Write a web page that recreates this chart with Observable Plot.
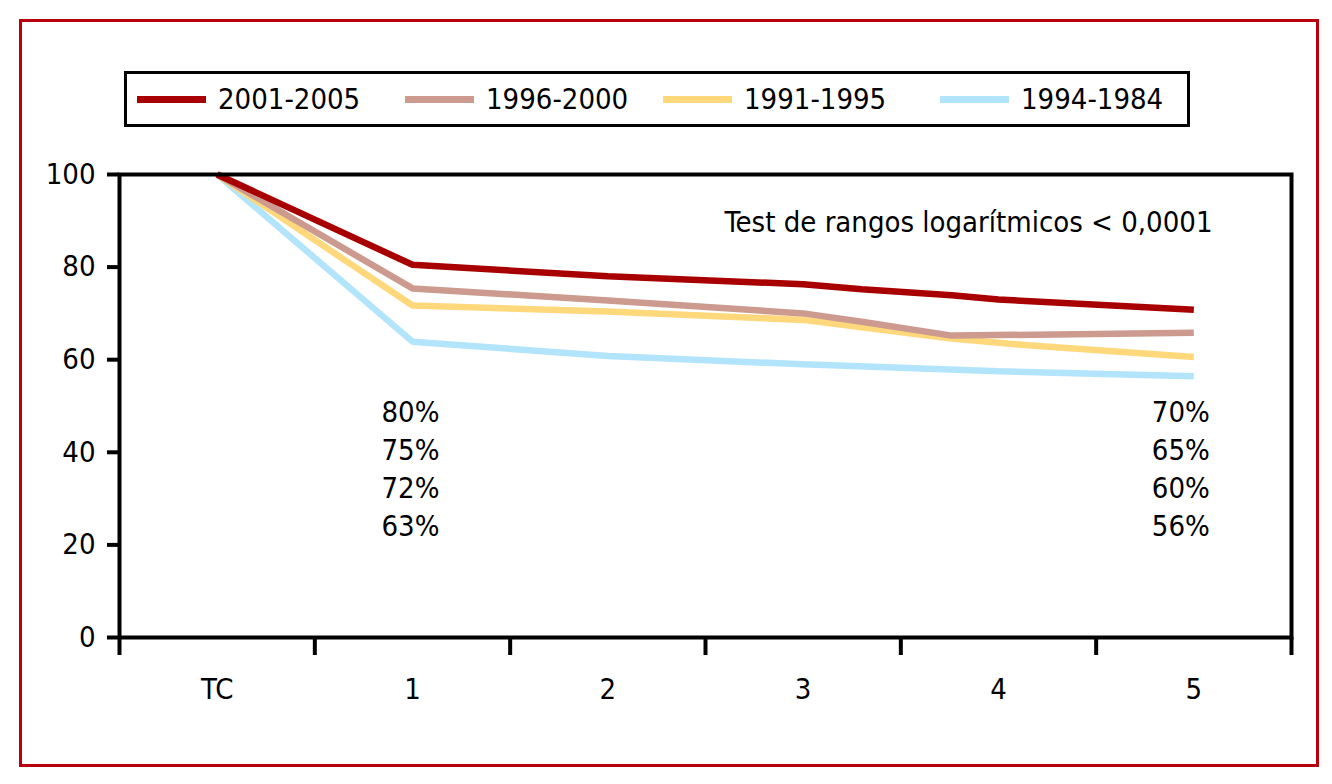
<!DOCTYPE html>
<html>
<head>
<meta charset="utf-8">
<script src="https://cdn.jsdelivr.net/npm/d3@7"></script>
<script src="https://cdn.jsdelivr.net/npm/@observablehq/plot@0.6"></script>
<style>
  html, body { margin: 0; padding: 0; background: #fff; }
  #wrap { position: relative; width: 1332px; height: 784px; overflow: hidden;
          font-family: 'Liberation Sans Narrow', 'DejaVu Sans Condensed', sans-serif; font-stretch: condensed; }
  #border { position: absolute; left: 19px; top: 19px; width: 1300px; height: 748px;
            border: 3px solid #b8000e; box-sizing: border-box; }
  #legend { position: absolute; left: 124px; top: 71px; width: 1066px; height: 56px;
            border: 3px solid #000; box-sizing: border-box; font-size: 29px; color: #000; }
  .item { position: absolute; top: 0; height: 50px; display: flex; align-items: center; white-space: nowrap; }
  .sw { width: 69px; height: 7px; margin-right: 12px; }
  #chart { position: absolute; left: 0; top: 0; }
  #chart svg text { font-stretch: condensed; }
</style>
</head>
<body>
<div id="wrap">
  <div id="border"></div>
  <div id="chart"></div>
  <div id="legend"></div>
</div>
<script>
// Series; time in years after TC (TC = 0)
const seriesNames = ["2001-2005", "1996-2000", "1991-1995", "1994-1984"];
const seriesColors = ["#a80000", "#cc9a8e", "#ffd87c", "#b2e4fc"];

const t2001 = [0, 1, 2, 3, 3.3, 3.76, 4, 5];
const v2001 = [100, 80.5, 78, 76.3, 75.2, 73.9, 73, 70.8];

const t1996 = [0, 1, 2, 3, 3.3, 3.76, 5];
const v1996 = [100, 75.4, 72.8, 70, 68.2, 65.2, 65.8];

const t1991 = [0, 1, 2, 3, 3.3, 3.76, 4.15, 5];
const v1991 = [100, 71.7, 70.4, 68.6, 67, 64.6, 63.1, 60.6];

const t1994 = [0, 1, 2, 3, 4, 5];
const v1994 = [100, 63.9, 60.8, 59, 57.5, 56.4];

const xTickLabels = ["TC", "1", "2", "3", "4", "5"];
const yTicks = [0, 20, 40, 60, 80, 100];
const leftPct = ["80%", "75%", "72%", "63%"];
const rightPct = ["70%", "65%", "60%", "56%"];
const note = "Test de rangos logarítmicos < 0,0001";

const FS = 29;

const build = (name, ts, vs) => ts.map((t, i) => ({series: name, t, v: vs[i]}));
const rows = [
  ...build(seriesNames[3], t1994, v1994),
  ...build(seriesNames[2], t1991, v1991),
  ...build(seriesNames[1], t1996, v1996),
  ...build(seriesNames[0], t2001, v2001)
];

const xPositions = xTickLabels.map((_, i) => i);
const bounds = d3.range(-0.5, xTickLabels.length, 1);

const chart = Plot.plot({
  width: 1332,
  height: 784,
  marginLeft: 119,
  marginRight: 41,
  marginTop: 174,
  marginBottom: 147,
  style: {fontFamily: "'Liberation Sans Narrow', 'DejaVu Sans Condensed', sans-serif", fontSize: FS + "px", color: "#000", background: "transparent"},
  x: {domain: [-0.5, 5.5]},
  y: {domain: [0, 100]},
  color: {domain: seriesNames, range: seriesColors},
  marks: [
    Plot.line(rows, {x: "t", y: "v", z: "series", stroke: "series", strokeWidth: 6.5,
      strokeLinecap: "butt", strokeLinejoin: "miter"}),
    Plot.frame({stroke: "#000", strokeWidth: 4}),
    Plot.axisY({ticks: yTicks, tickSize: 12, tickPadding: 12, strokeWidth: 4, fontSize: FS, label: null}),
    Plot.axisX({ticks: bounds, tickSize: 18, strokeWidth: 4, tickFormat: () => "", label: null}),
    Plot.axisX({ticks: xPositions, tickSize: 0, tickPadding: 41, fontSize: FS,
      tickFormat: d => xTickLabels[d], label: null}),
    Plot.text([leftPct.join("\n")], {x: 1, y: 52.4, text: d => d, textAnchor: "middle",
      lineAnchor: "top", lineHeight: 1.31, fontSize: FS, dx: -2}),
    Plot.text([rightPct.join("\n")], {x: 5, y: 52.4, text: d => d, textAnchor: "middle",
      lineAnchor: "top", lineHeight: 1.31, fontSize: FS, dx: -13}),
    Plot.text([note], {frameAnchor: "top-right", dx: -79, dy: 48, text: d => d,
      textAnchor: "end", lineAnchor: "middle", fontSize: FS})
  ]
});
document.getElementById("chart").appendChild(chart);

// Legend
const legend = document.getElementById("legend");
const itemLeft = [10, 278, 536, 813];
seriesNames.forEach((name, i) => {
  const item = document.createElement("div");
  item.className = "item";
  item.style.left = itemLeft[i] + "px";
  const sw = document.createElement("div");
  sw.className = "sw";
  sw.style.background = seriesColors[i];
  const tx = document.createElement("span");
  tx.textContent = name;
  item.appendChild(sw);
  item.appendChild(tx);
  legend.appendChild(item);
});
</script>
</body>
</html>
